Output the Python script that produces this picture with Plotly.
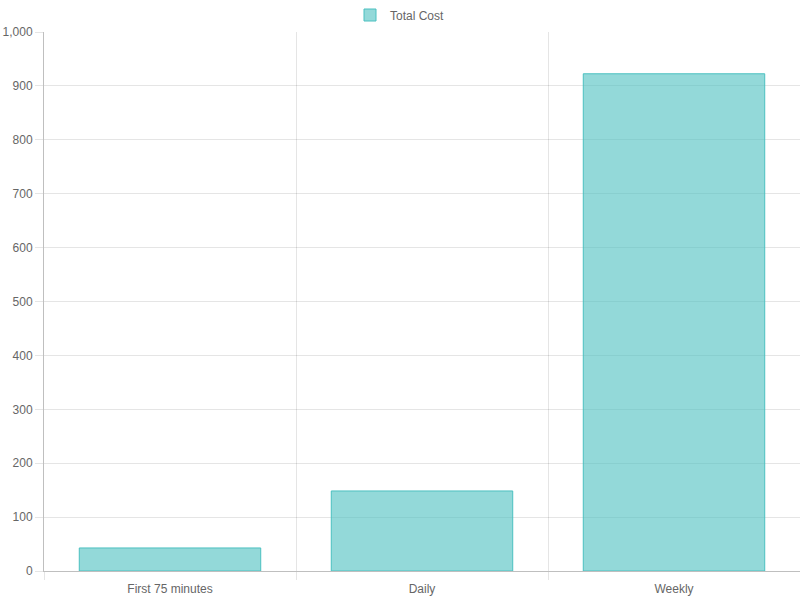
import plotly.graph_objects as go

# chart data
categories = ["First 75 minutes", "Daily", "Weekly"]
total_cost = [42.75, 148.5, 922.5]
series_name = "Total Cost"

grid = "rgba(0,0,0,0.1)"

fig = go.Figure()
fig.add_trace(go.Bar(
    x=categories,
    y=total_cost,
    name=series_name,
    marker=dict(color="rgba(75,192,192,0.6)",
                line=dict(color="rgb(75,192,192)", width=1)),
))

fig.update_layout(
    width=800,
    height=600,
    margin=dict(l=44, r=0, t=32, b=29, autoexpand=False),
    paper_bgcolor="white",
    plot_bgcolor="white",
    font=dict(family="Liberation Sans, Arial, sans-serif", size=12, color="#666"),
    bargap=0.28,
    showlegend=True,
    legend=dict(orientation="h", x=0.5, xref="container", xanchor="center",
                y=0.975, yref="container", yanchor="middle",
                font=dict(size=12, color="#666")),
    xaxis=dict(
        type="category",
        tickson="boundaries",
        showgrid=True,
        gridcolor=grid,
        ticks="outside",
        ticklen=8,
        tickcolor=grid,
        ticklabelstandoff=7,
        showline=True,
        linecolor="rgba(0,0,0,0.25)",
        zeroline=False,
        automargin=False,
        fixedrange=True,
    ),
    yaxis=dict(
        range=[0, 1000],
        dtick=100,
        tickformat=",",
        showgrid=True,
        gridcolor=grid,
        ticks="outside",
        ticklen=8,
        tickcolor=grid,
        showline=True,
        linecolor="rgba(0,0,0,0.25)",
        zeroline=False,
        automargin=False,
        fixedrange=True,
    ),
)

# drop the default page margin so the 800x600 figure sits at the window origin
fig.write_html("out.html", config={"displayModeBar": False},
               post_script="document.body.style.margin='0';")
